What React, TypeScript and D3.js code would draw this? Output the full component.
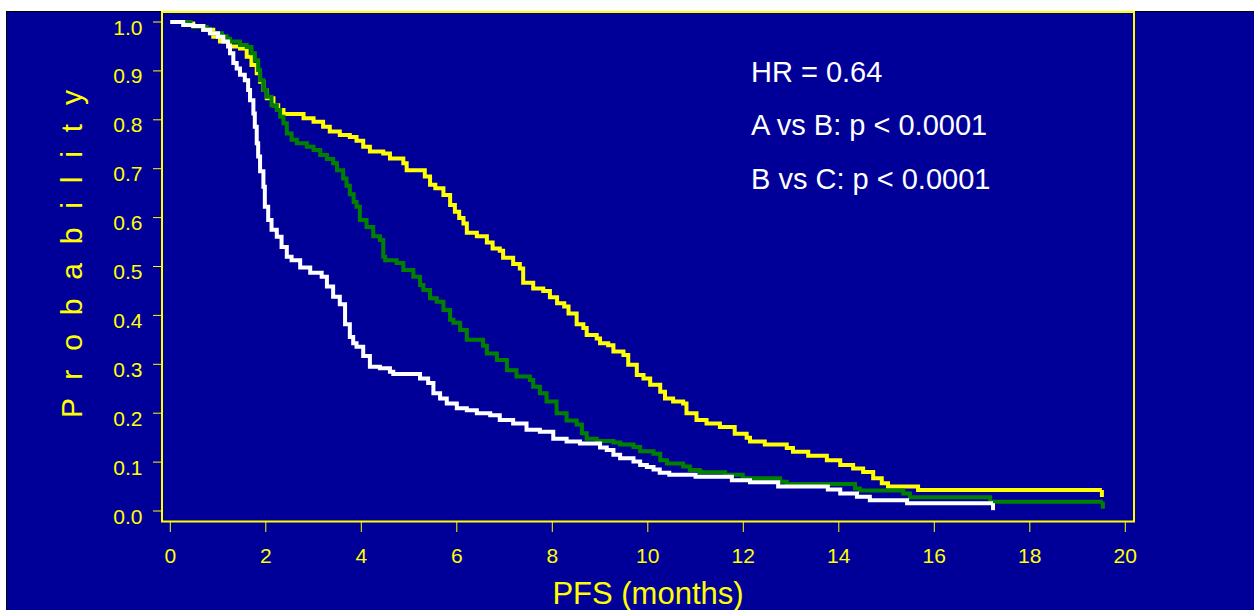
import React from 'react';
import * as d3 from 'd3';

// Kaplan-Meier steps: [months, probability]
const armA: [number, number][] = [
  [0, 1], [0.34, 0.997], [0.48, 0.992], [0.69, 0.984], [0.9, 0.97], [1.04, 0.96], [1.25, 0.95],
  [1.46, 0.946], [1.6, 0.929], [1.7, 0.912], [1.81, 0.895], [1.88, 0.878], [1.95, 0.861],
  [2.02, 0.844], [2.16, 0.83], [2.26, 0.82], [2.37, 0.812], [2.79, 0.803], [3.0, 0.796],
  [3.2, 0.786], [3.34, 0.776], [3.55, 0.769], [3.76, 0.765], [3.9, 0.757], [4.04, 0.745],
  [4.18, 0.735], [4.46, 0.731], [4.6, 0.721], [4.88, 0.711], [4.95, 0.697], [5.33, 0.684],
  [5.44, 0.667], [5.55, 0.66], [5.72, 0.646], [5.86, 0.626], [5.96, 0.612], [6.05, 0.599],
  [6.14, 0.588], [6.21, 0.569], [6.42, 0.562], [6.63, 0.549], [6.75, 0.537], [6.9, 0.532],
  [6.97, 0.518], [7.18, 0.505], [7.32, 0.496], [7.39, 0.467], [7.6, 0.455], [7.81, 0.45],
  [7.95, 0.437], [8.1, 0.425], [8.25, 0.418], [8.34, 0.404], [8.51, 0.382], [8.65, 0.374],
  [8.72, 0.36], [8.93, 0.353], [9.0, 0.343], [9.17, 0.339], [9.28, 0.326], [9.49, 0.319],
  [9.59, 0.299], [9.77, 0.278], [9.91, 0.271], [10.05, 0.258], [10.26, 0.244], [10.36, 0.23],
  [10.53, 0.224], [10.74, 0.22], [10.81, 0.2], [11.02, 0.186], [11.23, 0.179], [11.51, 0.172],
  [11.82, 0.158], [12.07, 0.15], [12.14, 0.142], [12.45, 0.136], [12.91, 0.129], [13.04, 0.121],
  [13.36, 0.113], [13.75, 0.104], [14.03, 0.094], [14.3, 0.087], [14.51, 0.08], [14.72, 0.067],
  [14.9, 0.057], [15.03, 0.05], [15.66, 0.043],
];
const armAEnd = 19.51;

const armB: [number, number][] = [
  [0, 1], [0.42, 0.994], [0.48, 0.99], [0.76, 0.986], [0.83, 0.977], [1.08, 0.971], [1.18, 0.966],
  [1.25, 0.96], [1.46, 0.953], [1.6, 0.949], [1.7, 0.936], [1.77, 0.922], [1.84, 0.902],
  [1.88, 0.881], [1.95, 0.861], [2.02, 0.847], [2.12, 0.83], [2.23, 0.82], [2.3, 0.806],
  [2.37, 0.793], [2.44, 0.772], [2.54, 0.759], [2.65, 0.752], [2.86, 0.745], [3.0, 0.738],
  [3.14, 0.728], [3.28, 0.72], [3.41, 0.711], [3.49, 0.697], [3.62, 0.68], [3.69, 0.665],
  [3.76, 0.648], [3.84, 0.632], [3.9, 0.622], [3.97, 0.595], [4.11, 0.581], [4.25, 0.562],
  [4.39, 0.554], [4.46, 0.52], [4.5, 0.513], [4.74, 0.507], [4.88, 0.493], [5.09, 0.479],
  [5.23, 0.462], [5.3, 0.452], [5.44, 0.435], [5.58, 0.428], [5.72, 0.411], [5.86, 0.391],
  [5.93, 0.385], [6.07, 0.37], [6.21, 0.35], [6.55, 0.338], [6.63, 0.322], [6.84, 0.309],
  [7.05, 0.288], [7.25, 0.275], [7.53, 0.268], [7.6, 0.254], [7.74, 0.241], [7.88, 0.224],
  [8.09, 0.2], [8.3, 0.185], [8.51, 0.177], [8.62, 0.159], [8.72, 0.148], [8.93, 0.143],
  [9.28, 0.14], [9.42, 0.136], [9.7, 0.131], [9.84, 0.122], [10.12, 0.117], [10.26, 0.104],
  [10.4, 0.097], [10.74, 0.091], [10.88, 0.084], [11.09, 0.079], [11.62, 0.074], [11.99, 0.067],
  [12.77, 0.06], [12.91, 0.055], [14.34, 0.046], [14.44, 0.042], [15.35, 0.036], [15.49, 0.028],
  [17.17, 0.019],
];
const armBEnd = 19.53;

const armC: [number, number][] = [
  [0, 1], [0.27, 0.994], [0.48, 0.992], [0.69, 0.984], [0.83, 0.977], [1.0, 0.97], [1.11, 0.96],
  [1.21, 0.95], [1.25, 0.936], [1.32, 0.916], [1.39, 0.905], [1.46, 0.892], [1.56, 0.881],
  [1.63, 0.861], [1.67, 0.84], [1.74, 0.813], [1.77, 0.786], [1.81, 0.752], [1.84, 0.725],
  [1.88, 0.695], [1.95, 0.663], [1.98, 0.622], [2.05, 0.595], [2.12, 0.575], [2.23, 0.561],
  [2.33, 0.54], [2.44, 0.52], [2.54, 0.513], [2.72, 0.498], [2.93, 0.487], [3.17, 0.479],
  [3.28, 0.459], [3.41, 0.438], [3.55, 0.423], [3.66, 0.382], [3.76, 0.356], [3.83, 0.343],
  [3.9, 0.336], [4.04, 0.317], [4.18, 0.295], [4.39, 0.292], [4.6, 0.285], [4.67, 0.28],
  [5.23, 0.271], [5.4, 0.262], [5.51, 0.241], [5.65, 0.23], [5.79, 0.22], [6.0, 0.21],
  [6.21, 0.206], [6.42, 0.2], [6.7, 0.196], [6.9, 0.186], [7.18, 0.179], [7.46, 0.166],
  [7.74, 0.162], [8.02, 0.148], [8.3, 0.142], [8.58, 0.138], [9.0, 0.13], [9.14, 0.125],
  [9.28, 0.115], [9.42, 0.108], [9.7, 0.101], [9.84, 0.094], [9.98, 0.09], [10.12, 0.085],
  [10.25, 0.078], [10.45, 0.074], [11.0, 0.07], [11.76, 0.063], [12.14, 0.059], [12.73, 0.05],
  [13.77, 0.044], [14.03, 0.036], [14.38, 0.029], [14.65, 0.022], [15.43, 0.016],
];
const armCEnd = 17.23;

const xTicks = [0, 2, 4, 6, 8, 10, 12, 14, 16, 18, 20];
const yTicks = [0, 0.1, 0.2, 0.3, 0.4, 0.5, 0.6, 0.7, 0.8, 0.9, 1.0];
const notes = ['HR = 0.64', 'A vs B: p < 0.0001', 'B vs C: p < 0.0001'];

const W = 1254;
const H = 610;
const FONT = '"Liberation Sans", Arial, Helvetica, sans-serif';
const BLUE = '#000099';
const YELLOW = '#ffff00';

const x = d3.scaleLinear().domain([0, 20]).range([170.3, 1125.3]);
const y = d3.scaleLinear().domain([0, 1]).range([511, 22]);

const line = d3
  .line<[number, number]>()
  .x((d) => x(d[0]))
  .y((d) => y(d[1]))
  .curve(d3.curveStepAfter);

const series = [
  { data: armA, end: armAEnd, color: YELLOW },
  { data: armB, end: armBEnd, color: '#008000' },
  { data: armC, end: armCEnd, color: '#ffffff' },
];

export default function App() {
  return (
    <svg
      width={W}
      height={H}
      style={{ position: 'absolute', left: 0, top: 0, display: 'block' }}
      fontFamily={FONT}
    >
      <rect x={0} y={0} width={W} height={H} fill="#ffffff" />
      <rect x={6.5} y={11.5} width={W} height={H} fill={BLUE} stroke="#000000" strokeWidth={1} />

      {/* curves */}
      {series.map((s, i) => {
        const last = s.data[s.data.length - 1][1];
        const pts: [number, number][] = [...s.data, [s.end, last]];
        return (
          <g key={i}>
            <path d={line(pts) || ''} fill="none" stroke={s.color} strokeWidth={4} />
            <line
              x1={x(s.end)}
              x2={x(s.end)}
              y1={y(last)}
              y2={y(last) + 7}
              stroke={s.color}
              strokeWidth={4}
            />
          </g>
        );
      })}

      {/* frame */}
      <rect x={162} y={12} width={972} height={509.5} fill="none" stroke={YELLOW} strokeWidth={2} />

      {/* y axis */}
      {yTicks.map((t) => (
        <g key={t}>
          <line x1={153} x2={161} y1={y(t)} y2={y(t)} stroke={YELLOW} strokeWidth={1} />
          <text x={142.5} y={y(t) + 12.5} fill={YELLOW} fontSize={21} textAnchor="end">
            {d3.format('.1f')(t)}
          </text>
        </g>
      ))}

      {/* x axis */}
      {xTicks.map((t) => (
        <g key={t}>
          <line x1={x(t)} x2={x(t)} y1={522} y2={532} stroke={YELLOW} strokeWidth={1} />
          <text x={x(t)} y={562.5} fill={YELLOW} fontSize={21} textAnchor="middle">
            {t}
          </text>
        </g>
      ))}

      <text
        transform="translate(82,254) rotate(-90)"
        fill={YELLOW}
        fontSize={30}
        textAnchor="middle"
        textLength={328}
        lengthAdjust="spacing"
      >
        P r o b a b i l i t y
      </text>
      <text x={648} y={604} fill={YELLOW} fontSize={31} textAnchor="middle">
        PFS (months)
      </text>

      {notes.map((n, i) => (
        <text key={n} x={751} y={81.5 + i * 53.5} fill="#ffffff" fontSize={29}>
          {n}
        </text>
      ))}
    </svg>
  );
}
